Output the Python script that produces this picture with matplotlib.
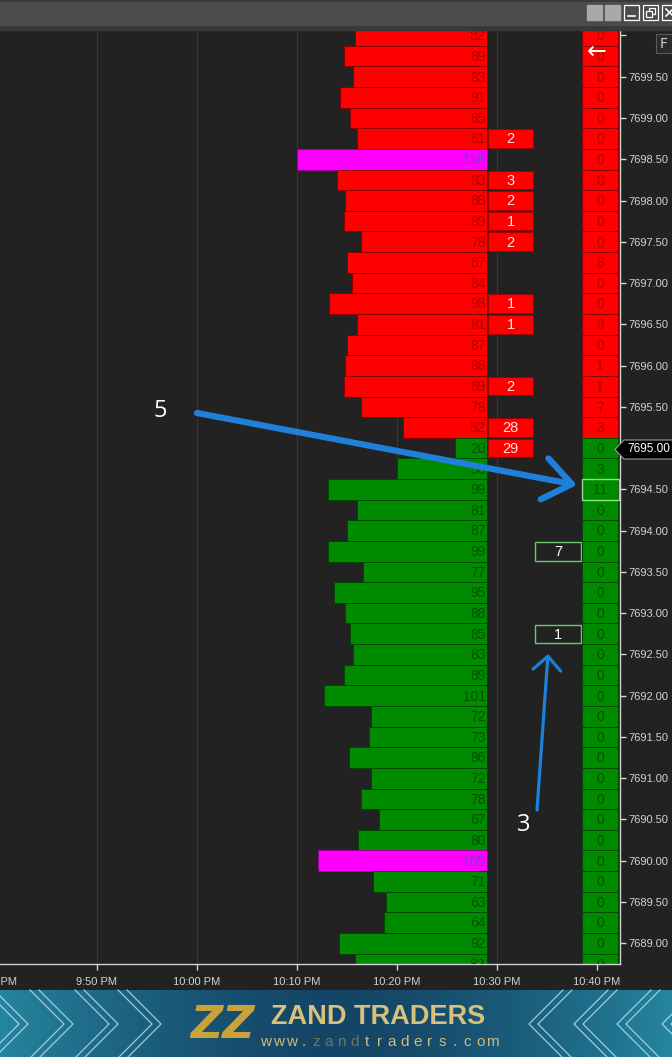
import numpy as np
import matplotlib
matplotlib.use('Agg')
import matplotlib.pyplot as plt
from matplotlib import font_manager
from matplotlib.patches import Rectangle, Polygon

W, H = 672, 1057

# price rows, top to bottom (tick size 0.25)
prices = [7700.00, 7699.75, 7699.50, 7699.25, 7699.00, 7698.75, 7698.50, 7698.25,
          7698.00, 7697.75, 7697.50, 7697.25, 7697.00, 7696.75, 7696.50, 7696.25,
          7696.00, 7695.75, 7695.50, 7695.25, 7695.00, 7694.75, 7694.50, 7694.25,
          7694.00, 7693.75, 7693.50, 7693.25, 7693.00, 7692.75, 7692.50, 7692.25,
          7692.00, 7691.75, 7691.50, 7691.25, 7691.00, 7690.75, 7690.50, 7690.25,
          7690.00, 7689.75, 7689.50, 7689.25, 7689.00, 7688.75]
volume = [82, 89, 83, 91, 85, 81, 118, 93, 88, 89, 78, 87, 84, 98, 81, 87,
          88, 89, 78, 52, 20, 56, 99, 81, 87, 99, 77, 95, 88, 85, 83, 89,
          101, 72, 73, 86, 72, 78, 67, 80, 105, 71, 63, 64, 92, 82]
right_col = [0, 0, 0, 0, 0, 0, 0, 0, 0, 0, 0, 8, 0, 0, 9, 0,
             1, 1, 7, 3, 0, 3, 11, 0, 0, 0, 0, 0, 0, 0, 0, 0,
             0, 0, 0, 0, 0, 0, 0, 0, 0, 0, 0, 0, 0, 0]
hvn_prices = [7698.50, 7690.00]
last_price = 7695.00
marked_price = 7694.50

delta_prices = [7698.75, 7698.25, 7698.00, 7697.75, 7697.50, 7696.75, 7696.50,
                7695.75, 7695.25, 7695.00]
delta_values = [2, 3, 2, 1, 2, 1, 1, 2, 28, 29]
bid_prices = [7693.75, 7692.75]
bid_values = [7, 1]

# x axis in minutes after 9:40 PM
time_ticks = [10, 20, 30, 40, 50, 60]
time_labels = ['9:50 PM', '10:00 PM', '10:10 PM', '10:20 PM', '10:30 PM', '10:40 PM']
price_ticks = [7689.0, 7689.5, 7690.0, 7690.5, 7691.0, 7691.5, 7692.0, 7692.5,
               7693.0, 7693.5, 7694.0, 7694.5, 7695.0, 7695.5, 7696.0, 7696.5,
               7697.0, 7697.5, 7698.0, 7698.5, 7699.0, 7699.5, 7700.0]
grid_prices = [7689.0, 7690.5, 7692.0, 7693.5, 7695.0, 7696.5, 7698.0, 7699.5]

names = {f.name for f in font_manager.fontManager.ttflist}
if 'Liberation Sans Narrow' in names:
    NARROW = 'Liberation Sans Narrow'
    fs_bar, fs_ax = 12, 9.8
else:
    NARROW = 'Liberation Sans'
    fs_bar, fs_ax = 10, 8

RED, RED_EDGE, RED_TXT = '#ff0000', '#8a0000', '#b00000'
GRN, GRN_EDGE, GRN_TXT = '#008a00', '#004a00', '#005200'
MAG, MAG_TXT = '#ff00ff', '#7a3cd0'
BG = '#222222'
AXC = '#d2d2d2'

fig = plt.figure(figsize=(W / 100, H / 100), dpi=100, facecolor=BG)
ax = fig.add_axes([0, 1 - 964 / H, 620 / W, (964 - 30) / H], facecolor=BG)

bar_right = 49.0
scale = 0.161
widths = [v * scale for v in volume]
lefts = [bar_right - w for w in widths]
fills, edges, tcols = [], [], []
for p in prices:
    if p in hvn_prices:
        fills.append(MAG); edges.append('#9a009a'); tcols.append(MAG_TXT)
    elif p > last_price:
        fills.append(RED); edges.append(RED_EDGE); tcols.append(RED_TXT)
    else:
        fills.append(GRN); edges.append(GRN_EDGE); tcols.append(GRN_TXT)

ax.barh(prices, widths, left=lefts, height=0.25, color=fills,
        edgecolor=edges, linewidth=0.7, zorder=2)
for p, v, c in zip(prices, volume, tcols):
    ax.text(bar_right - 0.15, p - 0.01, str(v), ha='right', va='center', color=c,
            fontsize=fs_bar, family=NARROW, zorder=3, clip_on=True)

# delta boxes
ax.barh(delta_prices, 4.5, left=49.1, height=0.225, color=RED,
        edgecolor='#a00000', linewidth=0.6, zorder=2)
for p, v in zip(delta_prices, delta_values):
    ax.text(51.35, p - 0.01, str(v), ha='center', va='center', color='#ffe6e6',
            fontsize=fs_bar + 0.5, family=NARROW, zorder=3)

# outlined bid boxes
ax.barh(bid_prices, 4.6, left=53.8, height=0.225, color=BG,
        edgecolor='#6cc86c', linewidth=1.0, zorder=2)
for p, v in zip(bid_prices, bid_values):
    ax.text(56.1, p - 0.01, str(v), ha='center', va='center', color='white',
            fontsize=fs_bar + 0.5, family=NARROW, zorder=3)

# right column
col_fill = [RED if p > last_price else GRN for p in prices]
col_edge = [RED_EDGE if p > last_price else GRN_EDGE for p in prices]
col_txt = [RED_TXT if p > last_price else GRN_TXT for p in prices]
ax.barh(prices, 3.6, left=58.5, height=0.25, color=col_fill,
        edgecolor=col_edge, linewidth=0.7, zorder=2)
for p, v, c in zip(prices, right_col, col_txt):
    ax.text(60.3, p - 0.01, str(v), ha='center', va='center', color=c,
            fontsize=fs_bar, family=NARROW, zorder=3, clip_on=True)
ax.add_patch(Rectangle((58.5, marked_price - 0.125), 3.7, 0.25, fill=False,
                       edgecolor='#8fdc8f', linewidth=1.0, zorder=4))

ax.set_xlim(0.3, 62.3)
ax.set_ylim(7688.749, 7700.066)

for s in ['top', 'left']:
    ax.spines[s].set_visible(False)
for s in ['bottom', 'right']:
    ax.spines[s].set_color(AXC)
    ax.spines[s].set_linewidth(1.0)

ax.yaxis.tick_right()
ax.set_yticks(price_ticks)
ax.set_yticklabels(['' if t in (7695.0, 7700.0) else '%.2f' % t for t in price_ticks],
                   family=NARROW, fontsize=fs_ax, color=AXC)
ax.set_yticks(grid_prices, minor=True)
ax.set_xticks(time_ticks)
ax.set_xticklabels(time_labels, family=NARROW, fontsize=fs_ax, color=AXC)
ax.tick_params(axis='y', which='major', direction='out', length=4, width=1,
               color=AXC, pad=2)
ax.tick_params(axis='y', which='minor', length=0)
ax.tick_params(axis='x', direction='out', length=4, width=1, color=AXC, pad=5.5)
ax.grid(axis='x', which='major', color='#363636', linewidth=0.8, zorder=0)
ax.grid(axis='y', which='minor', color='#363636', linewidth=0.8, zorder=0)
ax.set_axisbelow(True)

# overlay in pixel coordinates for window chrome, notes and banner
ov = fig.add_axes([0, 0, 1, 1], zorder=10)
ov.patch.set_alpha(0)
ov.axis('off')

ov.add_patch(Rectangle((0, 0), W, 30, color='#383838'))
ov.add_patch(Rectangle((0, 1.5), W, 23, color='#4b4b4b'))
ov.add_patch(Rectangle((587, 5), 15, 15, color='#a9a9a9'))
ov.add_patch(Rectangle((605, 5), 15, 15, color='#a9a9a9'))
for x0 in (624, 643, 662):
    ov.add_patch(Rectangle((x0, 5), 15, 15, facecolor='#4b4b4b', edgecolor='white', lw=0.9))
ov.plot([628, 635], [16, 16], color='white', lw=1.2)
ov.add_patch(Rectangle((649, 8), 6, 6, fill=False, edgecolor='white', lw=0.9))
ov.add_patch(Rectangle((646, 11), 6, 6, facecolor='#4b4b4b', edgecolor='white', lw=0.9))
ov.plot([666, 673], [9, 16], color='white', lw=1.2)
ov.plot([666, 673], [16, 9], color='white', lw=1.2)

ov.add_patch(Rectangle((656, 34), 17, 19, facecolor='#2b2b2b', edgecolor='#5a5a5a', lw=0.8))
ov.text(664, 44, 'F', ha='center', va='center', color='#cfcfcf', fontsize=10)
ov.text(597, 52, '\u2190', ha='center', va='center', color='white', fontsize=17,
        family='DejaVu Sans')

# last price marker
ov.add_patch(Polygon([(615, 449.5), (624, 440), (673, 440), (673, 459), (624, 459)],
                     closed=True, facecolor='black', edgecolor='#9a9a9a', lw=0.8))
ov.text(649, 449.5, '%.2f' % last_price, ha='center', va='center', color='white',
        fontsize=fs_ax + 0.5, family=NARROW)

ov.text(-3, 982, '9:40 PM', ha='center', va='center', color=AXC,
        fontsize=fs_ax, family=NARROW)

# hand-drawn notes
BLUE = '#1e80d8'
ov.annotate('', xy=(577, 485), xytext=(197, 413),
            arrowprops=dict(arrowstyle='->,head_length=2.0,head_width=1.5',
                            color=BLUE, lw=4.5, mutation_scale=10,
                            shrinkA=0, shrinkB=0, capstyle='round', joinstyle='round'))
ov.text(160, 411, '5', ha='center', va='center', color='white', fontsize=17,
        family='Open Sans')
ov.annotate('', xy=(548, 654), xytext=(537, 810),
            arrowprops=dict(arrowstyle='->,head_length=1.0,head_width=1.0',
                            color=BLUE, lw=2.3, mutation_scale=10,
                            shrinkA=0, shrinkB=0, capstyle='round', joinstyle='round'))
ov.text(524, 825, '3', ha='center', va='center', color='white', fontsize=17,
        family='Open Sans')

# banner
xs = np.linspace(0, 1, 400)
t = np.abs(xs - 0.5) * 2
c_mid = np.array([0x15, 0x45, 0x66]) / 255
c_edge = np.array([0x25, 0x85, 0xa0]) / 255
grad = c_mid[None, :] * (1 - t[:, None] ** 1.6) + c_edge[None, :] * t[:, None] ** 1.6
ov.imshow(grad[None, :, :], extent=(0, W, 1057, 990), aspect='auto', zorder=0)
for tip in (28, 73, 118, 161):
    for off in (0, 9):
        ov.plot([tip - 34 - off, tip - off, tip - 34 - off], [990, 1024, 1058],
                color='#b9dde6', lw=0.9, alpha=0.85)
for tip in (529, 574, 617, 662):
    for off in (0, 9):
        ov.plot([tip + 34 + off, tip + off, tip + 34 + off], [990, 1024, 1058],
                color='#b9dde6', lw=0.9, alpha=0.85)
ov.text(222, 1025, 'ZZ', ha='center', va='center', color='#c9a23a', fontsize=32,
        fontweight='bold', style='italic', family='DejaVu Sans')
ov.text(378, 1016.5, 'ZAND TRADERS', ha='center', va='center', color='#d6c27c',
        fontsize=19.5, fontweight='bold', family='Liberation Sans')
site = 'www.zandtraders.com'
for i, ch in enumerate(site):
    ov.text(266 + i * 12.6, 1042, ch, ha='center', va='center',
            color='#b89f5c' if 4 <= i <= 7 else '#d0bb78', fontsize=11,
            family='Liberation Sans', alpha=0.55 if 4 <= i <= 7 else 1.0)

ov.set_xlim(0, W)
ov.set_ylim(H, 0)

fig.savefig('out.png', dpi=100, facecolor=BG)
